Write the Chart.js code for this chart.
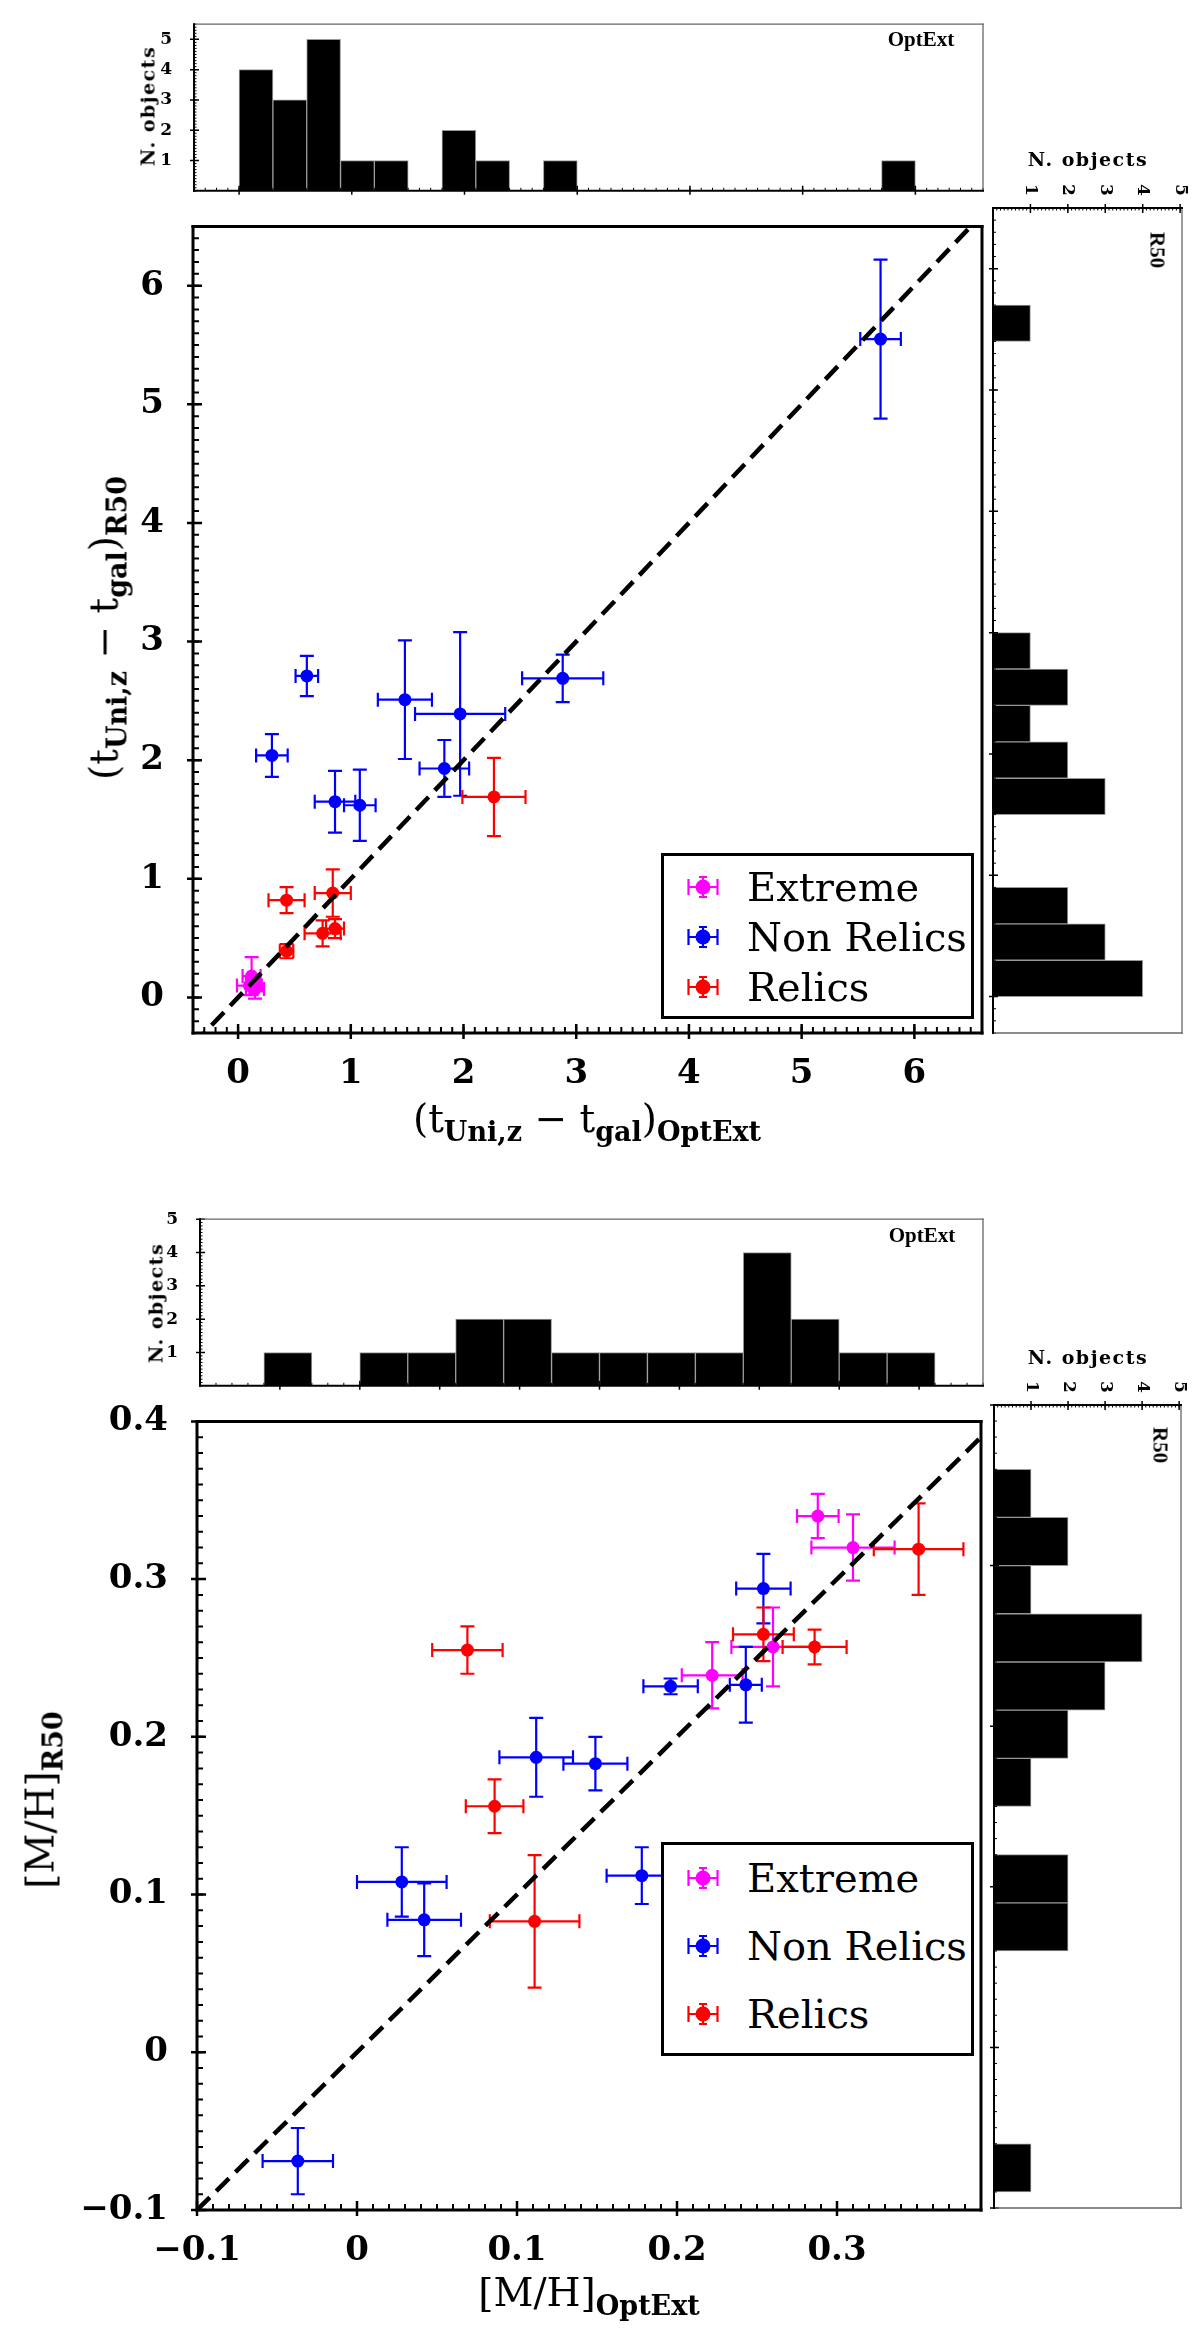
<!DOCTYPE html>
<html>
<head>
<meta charset="utf-8">
<script src="https://cdn.jsdelivr.net/npm/chart.js@4.4.1/dist/chart.umd.min.js"></script>
<style>
  html, body { margin: 0; padding: 0; background: #fff; }
  #page { position: relative; width: 1200px; height: 2334px; overflow: hidden; background: #fff; }
  #page canvas { position: absolute; }
  .lbl { position: absolute; white-space: nowrap; line-height: 1; color: #000; font-family: "DejaVu Serif", serif; z-index: 5; }
  .title { font-size: 39px; }
  .title .sb { font-size: 27px; font-weight: bold; position: relative; top: 9px; }
  .small { font-size: 19px; font-weight: bold; letter-spacing: 1.5px; }
  .tag { font-family: "Liberation Serif", serif; font-weight: bold; font-size: 21px; }
  .legend { position: absolute; border: 3px solid #000; background: #fff; box-sizing: border-box; z-index: 6; }
  .legend .row { position: absolute; display: flex; align-items: center; height: 50px; font-family: "DejaVu Serif", serif; font-size: 40px; white-space: nowrap; }
</style>
</head>
<body>
<div id="page"></div>
<script>
// ==================================== data: ages (Gyr), OptExt vs R50

const ageExtremeOpt = [0.12, 0.10, 0.15, 0.13]
const ageExtremeR50 = [0.18, 0.10, 0.07, 0.12]
const ageExtremeOptErr = [0.08, 0.11, 0.08, 0.06]
const ageExtremeR50Err = [0.16, 0.08, 0.08, 0.05]

const ageNonRelicOpt = [0.61, 0.30, 0.86, 1.08, 1.48, 1.97, 1.83, 2.88, 5.70]
const ageNonRelicR50 = [2.71, 2.04, 1.65, 1.62, 2.51, 2.39, 1.93, 2.69, 5.55]
const ageNonRelicOptErr = [0.10, 0.14, 0.18, 0.14, 0.24, 0.40, 0.22, 0.36, 0.18]
const ageNonRelicR50Err = [0.17, 0.18, 0.26, 0.30, 0.50, 0.69, 0.24, 0.20, 0.67]

const ageRelicOpt = [2.27, 0.43, 0.84, 0.75, 0.86, 0.43]
const ageRelicR50 = [1.69, 0.82, 0.88, 0.54, 0.58, 0.39]
const ageRelicOptErr = [0.28, 0.16, 0.16, 0.16, 0.08, 0.06]
const ageRelicR50Err = [0.33, 0.11, 0.20, 0.11, 0.08, 0.06]

// histogram bins (centres) and counts
const ageOptBins = [0.15, 0.45, 0.75, 1.05, 1.35, 1.65, 1.95, 2.25, 2.55, 2.85, 3.15, 3.45, 3.75, 4.05, 4.35, 4.65, 4.95, 5.25, 5.55, 5.85]
const ageOptCounts = [4, 3, 5, 1, 1, 0, 2, 1, 0, 1, 0, 0, 0, 0, 0, 0, 0, 0, 0, 1]
const ageR50Bins = [0.15, 0.45, 0.75, 1.05, 1.35, 1.65, 1.95, 2.25, 2.55, 2.85, 3.15, 3.45, 3.75, 4.05, 4.35, 4.65, 4.95, 5.25, 5.55]
const ageR50Counts = [4, 3, 2, 0, 0, 3, 2, 1, 2, 1, 0, 0, 0, 0, 0, 0, 0, 0, 1]

// ==================================== data: [M/H], OptExt vs R50

const mhExtremeOpt = [0.288, 0.310, 0.222, 0.260]
const mhExtremeR50 = [0.340, 0.320, 0.239, 0.257]
const mhExtremeOptErr = [0.013, 0.026, 0.019, 0.026]
const mhExtremeR50Err = [0.014, 0.021, 0.021, 0.025]

const mhNonRelicOpt = [0.254, 0.196, 0.243, 0.112, 0.149, 0.178, 0.028, 0.042, -0.037]
const mhNonRelicR50 = [0.294, 0.232, 0.233, 0.187, 0.183, 0.112, 0.108, 0.084, -0.069]
const mhNonRelicOptErr = [0.017, 0.017, 0.010, 0.023, 0.020, 0.022, 0.028, 0.023, 0.022]
const mhNonRelicR50Err = [0.022, 0.005, 0.024, 0.025, 0.017, 0.018, 0.022, 0.023, 0.021]

const mhRelicOpt = [0.351, 0.254, 0.286, 0.086, 0.111, 0.069]
const mhRelicR50 = [0.319, 0.265, 0.257, 0.156, 0.083, 0.255]
const mhRelicOptErr = [0.028, 0.019, 0.020, 0.018, 0.028, 0.022]
const mhRelicR50Err = [0.029, 0.017, 0.011, 0.017, 0.042, 0.015]

const mhOptBins = [-0.045, -0.015, 0.015, 0.045, 0.075, 0.105, 0.135, 0.165, 0.195, 0.225, 0.255, 0.285, 0.315, 0.345]
const mhOptCounts = [1, 0, 1, 1, 2, 2, 1, 1, 1, 1, 4, 2, 1, 1]
const mhR50Bins = [-0.075, -0.045, -0.015, 0.015, 0.045, 0.075, 0.105, 0.135, 0.165, 0.195, 0.225, 0.255, 0.285, 0.315, 0.345]
const mhR50Counts = [1, 0, 0, 0, 0, 2, 2, 0, 1, 2, 3, 4, 1, 2, 1]

// ==================================== axes and labels

const groupNames = ['Extreme', 'Non Relics', 'Relics']
const groupColors = ['#ff00ff', '#0000ff', '#ff0000']

const ageXRange = [-0.4, 6.6]
const ageYRange = [-0.3, 6.5]
const mhXRange = [-0.1, 0.39]
const mhYRange = [-0.1, 0.4]
const ageCountRange = [0, 5.5]
const mhCountRange = [0, 5]
const sideCountRange = [0, 5.05]

const ageTicks = [0, 1, 2, 3, 4, 5, 6]
const mhTicks = [-0.1, 0, 0.1, 0.2, 0.3, 0.4]
const mhHistTicks = [-0.05, 0, 0.05, 0.1, 0.15, 0.2, 0.25, 0.3, 0.35]
const countTicks = [1, 2, 3, 4, 5]
const ageOneToOne = [-0.4, 6.6]
const mhOneToOne = [-0.1, 0.4]

const SERIF = '"DejaVu Serif", serif'
const page = document.getElementById('page')

function steps(lo, hi, step) {
    const out = []
    for (let k = Math.ceil(lo / step - 1e-6); k * step <= hi + 1e-9; k++) out.push(Math.round(k * step * 1e6) / 1e6)
    return out
}

function fmtMH(v) {
    if (Math.abs(v) < 1e-9) return '0'
    return (v < 0 ? '\u2212' : '') + Math.abs(v).toFixed(1)
}

function addCanvas(r) {
    const c = document.createElement('canvas')
    c.width = r.w
    c.height = r.h
    c.style.left = r.x + 'px'
    c.style.top = r.y + 'px'
    c.style.width = r.w + 'px'
    c.style.height = r.h + 'px'
    page.appendChild(c)
    return c
}

// works out padding and axis sizes so the plot area lands on `area`
function layoutFor(r, area, xPos) {
    const pad = { left: 0, right: r.x + r.w - area.r, top: 0, bottom: 0 }
    let xSize
    if (xPos === 'top') {
        xSize = area.t - r.y
        pad.bottom = r.y + r.h - area.b
    } else {
        xSize = r.y + r.h - area.b
        pad.top = area.t - r.y
    }
    return { pad, ySize: area.l - r.x, xSize }
}

function axis(pos, range, size, tickValues, ticks) {
    const shown = tickValues.filter(v => v >= range[0] - 1e-9 && v <= range[1] + 1e-9)
    return {
        type: 'linear', position: pos, min: range[0], max: range[1], bounds: 'data', offset: false,
        grid: { display: false }, border: { display: false },
        afterBuildTicks: ax => { ax.ticks = shown.map(v => ({ value: v })) },
        afterFit: ax => { if (ax.isHorizontal()) ax.height = size; else ax.width = size },
        ticks: Object.assign({ display: false, autoSkip: false, maxRotation: 0, color: '#000' }, ticks || {})
    }
}

// ==================================== plugins

const framePlugin = {
    id: 'frame',
    afterDraw(chart, args, opts) {
        const ctx = chart.ctx
        const a = chart.chartArea
        ctx.save()
        ;(opts.ticks || []).forEach(t => {
            const sc = chart.scales[t.scale]
            ctx.strokeStyle = '#000'
            ctx.lineWidth = t.width
            ctx.beginPath()
            t.values.forEach(v => {
                const p = sc.getPixelForValue(v)
                if (t.edge === 'bottom' || t.edge === 'top') {
                    if (p < a.left - 0.5 || p > a.right + 0.5) return
                    const e = t.edge === 'bottom' ? a.bottom : a.top
                    const dir = t.edge === 'bottom' ? -1 : 1
                    ctx.moveTo(p, e - dir * t.out)
                    ctx.lineTo(p, e + dir * t.inside)
                } else {
                    if (p < a.top - 0.5 || p > a.bottom + 0.5) return
                    const e = t.edge === 'left' ? a.left : a.right
                    const dir = t.edge === 'left' ? 1 : -1
                    ctx.moveTo(e - dir * t.out, p)
                    ctx.lineTo(e + dir * t.inside, p)
                }
            })
            ctx.stroke()
        })
        const sides = opts.sides || {}
        Object.keys(sides).forEach(side => {
            const [color, w] = sides[side]
            ctx.strokeStyle = color
            ctx.lineWidth = w
            ctx.beginPath()
            if (side === 'left') { ctx.moveTo(a.left, a.top - w / 2); ctx.lineTo(a.left, a.bottom + w / 2) }
            if (side === 'right') { ctx.moveTo(a.right, a.top - w / 2); ctx.lineTo(a.right, a.bottom + w / 2) }
            if (side === 'top') { ctx.moveTo(a.left - w / 2, a.top); ctx.lineTo(a.right + w / 2, a.top) }
            if (side === 'bottom') { ctx.moveTo(a.left - w / 2, a.bottom); ctx.lineTo(a.right + w / 2, a.bottom) }
            ctx.stroke()
        })
        // count labels of the side histograms, turned clockwise
        if (opts.rotated) {
            const sc = chart.scales[opts.rotated.scale]
            ctx.fillStyle = '#000'
            ctx.font = 'bold 17px ' + SERIF
            ctx.textAlign = 'center'
            ctx.textBaseline = 'middle'
            opts.rotated.values.forEach(v => {
                ctx.save()
                ctx.translate(sc.getPixelForValue(v), a.top - opts.rotated.offset)
                ctx.rotate(Math.PI / 2)
                ctx.fillText(String(v), 0, 0)
                ctx.restore()
            })
        }
        ctx.restore()
    }
}

const errorBarPlugin = {
    id: 'errorBars',
    beforeDatasetDraw(chart, args, opts) {
        const ds = chart.data.datasets[args.index]
        if (!ds.xErr) return
        const xs = chart.scales.x
        const ys = chart.scales.y
        const ctx = chart.ctx
        const a = chart.chartArea
        const c = opts.cap
        ctx.save()
        ctx.beginPath()
        ctx.rect(a.left, a.top, a.right - a.left, a.bottom - a.top)
        ctx.clip()
        ctx.strokeStyle = ds.backgroundColor
        ctx.lineWidth = opts.width
        ctx.beginPath()
        ds.data.forEach((pt, i) => {
            const px = xs.getPixelForValue(pt.x)
            const py = ys.getPixelForValue(pt.y)
            const xl = xs.getPixelForValue(pt.x - ds.xErr[i])
            const xr = xs.getPixelForValue(pt.x + ds.xErr[i])
            const yt = ys.getPixelForValue(pt.y + ds.yErr[i])
            const yb = ys.getPixelForValue(pt.y - ds.yErr[i])
            ctx.moveTo(xl, py); ctx.lineTo(xr, py)
            ctx.moveTo(px, yt); ctx.lineTo(px, yb)
            ctx.moveTo(xl, py - c); ctx.lineTo(xl, py + c)
            ctx.moveTo(xr, py - c); ctx.lineTo(xr, py + c)
            ctx.moveTo(px - c, yt); ctx.lineTo(px + c, yt)
            ctx.moveTo(px - c, yb); ctx.lineTo(px + c, yb)
        })
        ctx.stroke()
        ctx.restore()
    }
}

// ==================================== chart builders

const bigTickFont = { family: SERIF, size: 34, weight: 'bold' }
const smallTickFont = { family: SERIF, size: 17, weight: 'bold' }
const blackSides = { left: ['#000', 3], bottom: ['#000', 3], top: ['#000', 3], right: ['#000', 3] }

function scatterChart(r, area, groups, oneToOne, xRange, yRange, xTicks, yTicks, minorStep, fmt) {
    const lay = layoutFor(r, area, 'bottom')
    const datasets = groups.map((g, i) => ({
        label: groupNames[i],
        data: g.x.map((v, j) => ({ x: v, y: g.y[j] })),
        xErr: g.xErr,
        yErr: g.yErr,
        backgroundColor: groupColors[i],
        borderWidth: 0,
        pointRadius: 6.5,
        pointHoverRadius: 6.5,
        order: 3 - i
    }))
    datasets.push({
        label: '1:1',
        data: oneToOne.map(v => ({ x: v, y: v })),
        showLine: true,
        borderColor: '#000',
        borderWidth: 4.5,
        borderDash: [18, 9],
        pointRadius: 0,
        clip: 0,
        order: 0
    })
    return new Chart(addCanvas(r), {
        type: 'scatter',
        data: { datasets },
        options: {
            responsive: false, animation: false, devicePixelRatio: 1, events: [],
            layout: { padding: lay.pad },
            scales: {
                x: axis('bottom', xRange, lay.xSize, xTicks, { display: true, font: bigTickFont, padding: 13, callback: fmt }),
                y: axis('left', yRange, lay.ySize, yTicks, { display: true, font: bigTickFont, padding: 21, callback: fmt })
            },
            plugins: {
                legend: { display: false }, tooltip: { enabled: false },
                errorBars: { width: 2.2, cap: 7 },
                frame: {
                    sides: blackSides,
                    ticks: [
                        { scale: 'x', edge: 'bottom', values: xTicks, out: 6, inside: 9, width: 2.5 },
                        { scale: 'x', edge: 'bottom', values: steps(xRange[0], xRange[1], minorStep), out: 0, inside: 6, width: 2 },
                        { scale: 'y', edge: 'left', values: yTicks, out: 6, inside: 9, width: 2.5 },
                        { scale: 'y', edge: 'left', values: steps(yRange[0], yRange[1], minorStep), out: 0, inside: 6, width: 2 }
                    ]
                }
            }
        },
        plugins: [errorBarPlugin, framePlugin]
    })
}

function barBorder(key) {
    return ctx => (ctx.raw && ctx.raw[key] > 0 ? 1 : 0)
}

function topHistChart(r, area, bins, counts, xRange, countRange, majors, minorStep) {
    const lay = layoutFor(r, area, 'bottom')
    return new Chart(addCanvas(r), {
        type: 'bar',
        data: {
            datasets: [{
                data: bins.map((b, i) => ({ x: b, y: counts[i] })),
                backgroundColor: '#000', borderColor: '#999', borderWidth: barBorder('y'),
                barPercentage: 1, categoryPercentage: 1
            }]
        },
        options: {
            responsive: false, animation: false, devicePixelRatio: 1, events: [],
            layout: { padding: lay.pad },
            scales: {
                x: axis('bottom', xRange, lay.xSize, majors),
                y: axis('left', countRange, lay.ySize, countTicks, { display: true, font: smallTickFont, padding: 14 })
            },
            plugins: {
                legend: { display: false }, tooltip: { enabled: false },
                frame: {
                    sides: { top: ['#666', 1.3], right: ['#666', 1.3], left: ['#000', 2], bottom: ['#000', 2] },
                    ticks: [
                        { scale: 'x', edge: 'bottom', values: majors, out: 4, inside: 5, width: 1.5 },
                        { scale: 'x', edge: 'bottom', values: steps(xRange[0], xRange[1], minorStep), out: 0, inside: 3, width: 1 },
                        { scale: 'y', edge: 'left', values: countTicks, out: 4, inside: 5, width: 1.5 },
                        { scale: 'y', edge: 'left', values: steps(countRange[0], countRange[1], 0.1), out: 0, inside: 2.5, width: 1 }
                    ]
                }
            }
        },
        plugins: [framePlugin]
    })
}

function sideHistChart(r, area, bins, counts, yRange, majors, minorStep) {
    const lay = layoutFor(r, area, 'top')
    return new Chart(addCanvas(r), {
        type: 'bar',
        data: {
            datasets: [{
                data: bins.map((b, i) => ({ x: counts[i], y: b })),
                backgroundColor: '#000', borderColor: '#999', borderWidth: barBorder('x'),
                barPercentage: 1, categoryPercentage: 1
            }]
        },
        options: {
            indexAxis: 'y',
            responsive: false, animation: false, devicePixelRatio: 1, events: [],
            layout: { padding: lay.pad },
            scales: {
                x: axis('top', sideCountRange, lay.xSize, countTicks),
                y: axis('left', yRange, lay.ySize, majors)
            },
            plugins: {
                legend: { display: false }, tooltip: { enabled: false },
                frame: {
                    sides: { bottom: ['#666', 1.3], right: ['#666', 1.3], left: ['#000', 2], top: ['#000', 2] },
                    ticks: [
                        { scale: 'y', edge: 'left', values: majors, out: 4, inside: 5, width: 1.5 },
                        { scale: 'y', edge: 'left', values: steps(yRange[0], yRange[1], minorStep), out: 0, inside: 3, width: 1 },
                        { scale: 'x', edge: 'top', values: countTicks, out: 4, inside: 5, width: 1.5 },
                        { scale: 'x', edge: 'top', values: steps(sideCountRange[0], sideCountRange[1], 0.1), out: 0, inside: 2.5, width: 1 }
                    ],
                    rotated: { scale: 'x', values: countTicks, offset: 18 }
                }
            }
        },
        plugins: [framePlugin]
    })
}

// ==================================== text and legend

function addLabel(html, cls, x, y, rot) {
    const d = document.createElement('div')
    d.className = 'lbl ' + cls
    d.innerHTML = html
    d.style.left = x + 'px'
    d.style.top = y + 'px'
    d.style.transform = 'translate(-50%, -50%)' + (rot ? ` rotate(${rot}deg)` : '')
    page.appendChild(d)
}

function legendIcon(color) {
    const c = document.createElement('canvas')
    c.width = 44
    c.height = 34
    c.style.position = 'static'
    const g = c.getContext('2d')
    g.strokeStyle = color
    g.fillStyle = color
    g.lineWidth = 2.2
    g.beginPath()
    g.moveTo(7.5, 17); g.lineTo(36.5, 17)
    g.moveTo(7.5, 9); g.lineTo(7.5, 25)
    g.moveTo(36.5, 9); g.lineTo(36.5, 25)
    g.moveTo(22, 7); g.lineTo(22, 27)
    g.moveTo(18, 7); g.lineTo(26, 7)
    g.moveTo(18, 27); g.lineTo(26, 27)
    g.stroke()
    g.beginPath()
    g.arc(22, 17, 7.5, 0, Math.PI * 2)
    g.fill()
    return c
}

function addLegend(left, top, width, height, rowCentres) {
    const box = document.createElement('div')
    box.className = 'legend'
    box.style.left = left + 'px'
    box.style.top = top + 'px'
    box.style.width = width + 'px'
    box.style.height = height + 'px'
    groupNames.forEach((name, i) => {
        const row = document.createElement('div')
        row.className = 'row'
        row.style.left = '17px'
        row.style.top = (rowCentres[i] - 28) + 'px'
        row.appendChild(legendIcon(groupColors[i]))
        const txt = document.createElement('span')
        txt.textContent = name
        txt.style.marginLeft = '22px'
        row.appendChild(txt)
        box.appendChild(row)
    })
    page.appendChild(box)
}

// ==================================== top panel: ages

topHistChart({ x: 0, y: 0, w: 1000, h: 215 }, { l: 194, t: 12, r: 983, b: 199 },
    ageOptBins, ageOptCounts, ageXRange, ageCountRange, ageTicks, 0.1)

scatterChart({ x: 0, y: 185, w: 1000, h: 925 }, { l: 193, t: 208, r: 982, b: 1033 },
    [
        { x: ageExtremeOpt, y: ageExtremeR50, xErr: ageExtremeOptErr, yErr: ageExtremeR50Err },
        { x: ageNonRelicOpt, y: ageNonRelicR50, xErr: ageNonRelicOptErr, yErr: ageNonRelicR50Err },
        { x: ageRelicOpt, y: ageRelicR50, xErr: ageRelicOptErr, yErr: ageRelicR50Err }
    ],
    ageOneToOne, ageXRange, ageYRange, ageTicks, ageTicks, 0.1, v => String(v))

sideHistChart({ x: 985, y: 170, w: 215, h: 880 }, { l: 993, t: 208, r: 1182, b: 1033 },
    ageR50Bins, ageR50Counts, ageYRange, ageTicks, 0.1)

// ==================================== bottom panel: [M/H]

topHistChart({ x: 0, y: 1195, w: 1000, h: 215 }, { l: 200, t: 1210, r: 983, b: 1396 },
    mhOptBins, mhOptCounts, mhXRange, mhCountRange, mhHistTicks, 0.01)

scatterChart({ x: 0, y: 1380, w: 1000, h: 954 }, { l: 197, t: 1406, r: 981, b: 2210 },
    [
        { x: mhExtremeOpt, y: mhExtremeR50, xErr: mhExtremeOptErr, yErr: mhExtremeR50Err },
        { x: mhNonRelicOpt, y: mhNonRelicR50, xErr: mhNonRelicOptErr, yErr: mhNonRelicR50Err },
        { x: mhRelicOpt, y: mhRelicR50, xErr: mhRelicOptErr, yErr: mhRelicR50Err }
    ],
    mhOneToOne, mhXRange, mhYRange, mhTicks, mhTicks, 0.01, fmtMH)

sideHistChart({ x: 985, y: 1370, w: 215, h: 850 }, { l: 994, t: 1405, r: 1181, b: 2208 },
    mhR50Bins, mhR50Counts, mhYRange, mhTicks, 0.01)

// ==================================== titles

addLabel('(t<span class="sb">Uni,z</span> \u2212 t<span class="sb">gal</span>)<span class="sb">R50</span>', 'title', 104, 628, -90)
addLabel('(t<span class="sb">Uni,z</span> \u2212 t<span class="sb">gal</span>)<span class="sb">OptExt</span>', 'title', 587, 1118)
addLabel('[M/H]<span class="sb">R50</span>', 'title', 40, 1800, -90)
addLabel('[M/H]<span class="sb">OptExt</span>', 'title', 589, 2292)

addLabel('N. objects', 'small', 148, 106, -90)
addLabel('N. objects', 'small', 156, 1303, -90)
addLabel('N. objects', 'small', 1088, 159)
addLabel('N. objects', 'small', 1088, 1357)

addLabel('OptExt', 'tag', 921, 39)
addLabel('OptExt', 'tag', 922, 1235)
addLabel('R50', 'tag', 1157, 250, 90)
addLabel('R50', 'tag', 1160, 1445, 90)

addLegend(661, 853, 313, 166, [34, 84, 134])
addLegend(661, 1842, 313, 214, [36, 104, 172])
</script>
</body>
</html>
